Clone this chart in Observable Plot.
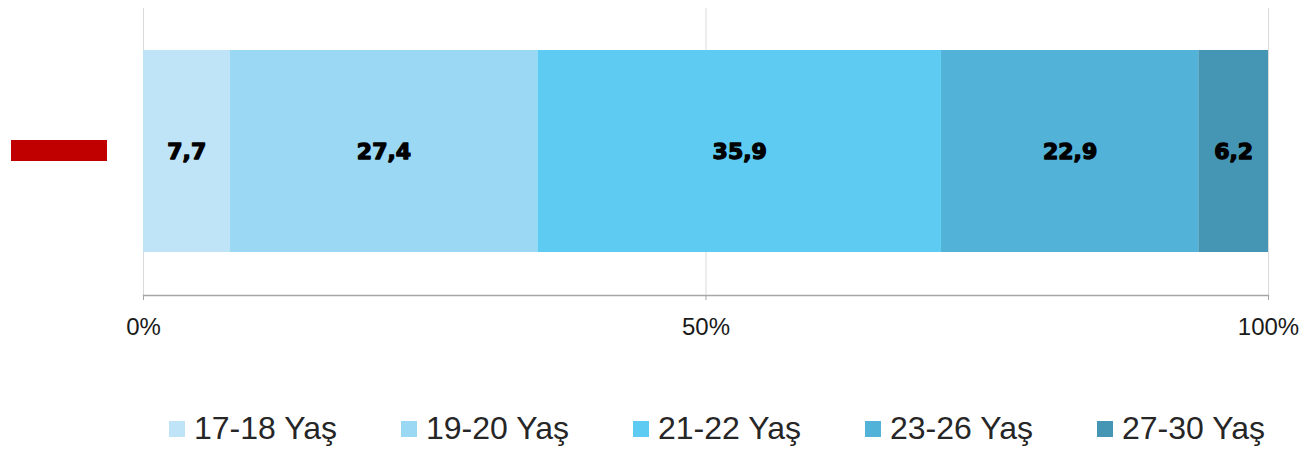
<!DOCTYPE html>
<html>
<head>
<meta charset="utf-8">
<script src="https://cdn.jsdelivr.net/npm/d3@7"></script>
<script src="https://cdn.jsdelivr.net/npm/@observablehq/plot@0.6"></script>
<style>
  html, body { margin: 0; padding: 0; background: #fff; }
  body { width: 1306px; height: 450px; position: relative; overflow: hidden; font-family: "Liberation Sans", Arial, sans-serif; }
  #chart { position: absolute; left: 0; top: 0; }
  #redact { position: absolute; left: 11px; top: 140px; width: 96px; height: 21px; background: #C00000; }
  #legend { position: absolute; left: 169px; top: 410px; display: flex; gap: 0; }
  .item { display: flex; align-items: center; width: 232px; font-size: 32px; color: #262626; }
  .sw { width: 16px; height: 16px; margin-right: 9px; flex: none; }
</style>
</head>
<body>
<div id="chart"></div>
<div id="redact"></div>
<div id="legend"></div>
<script>
const categories = ["17-18 Yaş", "19-20 Yaş", "21-22 Yaş", "23-26 Yaş", "27-30 Yaş"];
const values = [7.7, 27.4, 35.9, 22.9, 6.2];
const valueLabels = ["7,7", "27,4", "35,9", "22,9", "6,2"];
const colors = ["#C0E4F7", "#9AD8F4", "#5ECCF2", "#52B2D7", "#4596B4"];
const xTicks = [0, 0.5, 1];
const rowName = "row";

const rows = categories.map((c, i) => ({cat: c, value: values[i], label: valueLabels[i], row: rowName}));
const fmt = d3.format(".0%");

const chart = Plot.plot({
  width: 1306,
  height: 360,
  marginLeft: 143,
  marginRight: 38,
  marginTop: 8,
  marginBottom: 65,
  style: {fontFamily: "Liberation Sans, Arial, sans-serif", background: "white"},
  x: {domain: [0, 1], label: null},
  y: {domain: [rowName], padding: 0.1715, axis: null},
  color: {domain: categories, range: colors},
  marks: [
    Plot.gridX(xTicks, {stroke: "#d9d9d9", strokeOpacity: 1, strokeWidth: 1}),
    Plot.barX(rows, Plot.stackX({x: "value", y: "row", fill: "cat", offset: "normalize", order: null})),
    Plot.frame({anchor: "bottom", stroke: "#a6a6a6", strokeWidth: 1.3}),
    Plot.axisX(xTicks, {tickFormat: fmt, tickSize: 5, tickPadding: 17, stroke: "#a6a6a6", fontSize: 24, fill: "#1a1a1a", label: null}),
    Plot.text(rows, Plot.stackX({x: "value", y: "row", text: "label", offset: "normalize", order: null,
      fontFamily: "DejaVu Sans, Liberation Sans, sans-serif",
      fontSize: 22, fontWeight: 900, fill: "black", stroke: "black", strokeWidth: 1.3}))
  ]
});
document.getElementById("chart").appendChild(chart);

const legend = document.getElementById("legend");
categories.forEach((c, i) => {
  const it = document.createElement("div");
  it.className = "item";
  const sw = document.createElement("span");
  sw.className = "sw";
  sw.style.background = colors[i];
  const t = document.createElement("span");
  t.textContent = c;
  it.appendChild(sw);
  it.appendChild(t);
  legend.appendChild(it);
});
</script>
</body>
</html>
